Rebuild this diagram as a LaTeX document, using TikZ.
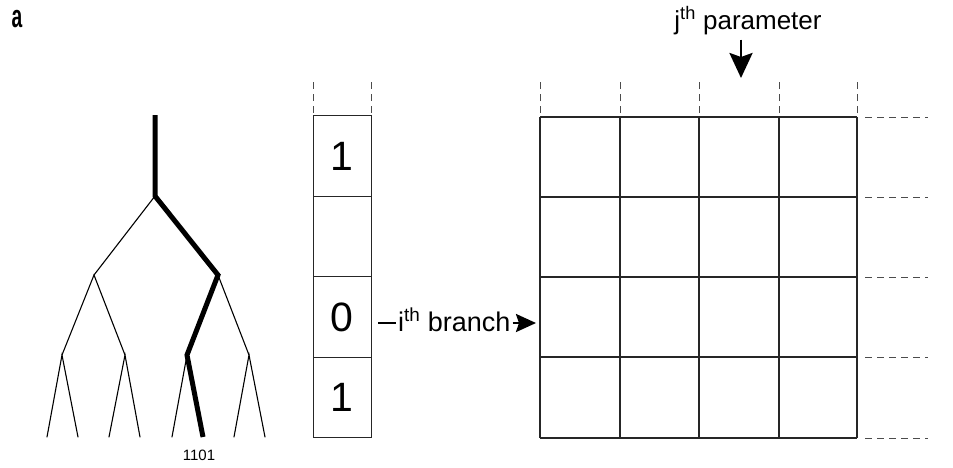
\documentclass[tikz,border=0pt]{standalone}
\usepackage{fontspec}
\setmainfont{Liberation Sans}
\usepackage{tikz}
\usetikzlibrary{arrows.meta, calc, positioning}
\tikzstyle{branch} = [line width=1.1pt, line cap=round]
\tikzstyle{path} = [line width=5pt, line join=miter]
\tikzstyle{cell} = [rectangle, draw=black!85, line width=1pt, minimum width=58pt, minimum height=80.5pt, outer sep=0pt, inner sep=0pt, font=\fontsize{41}{41}\selectfont]
\tikzstyle{dashline} = [line width=1pt, black!70, dash pattern=on 7pt off 5pt]
\tikzstyle{arrow} = [line width=2.8pt, -{Stealth[length=25pt, width=23pt, inset=4pt]}]
\tikzstyle{label} = [font=\fontsize{26}{30}\selectfont, inner sep=2pt]

\begin{document}
\begin{tikzpicture}[x=1pt, y=-1pt, node distance = 0pt]
	\useasboundingbox (0,0) rectangle (953,467);
	\node (panel) [inner sep=1pt] at (17,19) {\fontsize{32}{32}\selectfont\bfseries\scalebox{0.6}[1]{a}};

	% tree
	\coordinate (top) at (155,115);
	\coordinate (r) at (155,196);
	\coordinate (n0) at (94,275);
	\coordinate (n1) at (218,275);
	\coordinate (n00) at (62,355);
	\coordinate (n01) at (125,355);
	\coordinate (n10) at (187,355);
	\coordinate (n11) at (249,355);
	\coordinate (l000) at (47,437);
	\coordinate (l001) at (78,437);
	\coordinate (l010) at (109,437);
	\coordinate (l011) at (140,437);
	\coordinate (l100) at (172,437);
	\coordinate (l101) at (203,437);
	\coordinate (l110) at (234,437);
	\coordinate (l111) at (265,437);
	\draw[branch] (l000) -- (n00) -- (l001);
	\draw[branch] (l010) -- (n01) -- (l011);
	\draw[branch] (n00) -- (n0) -- (n01);
	\draw[branch] (r) -- (n0);
	\draw[branch] (l100) -- (n10);
	\draw[branch] (l110) -- (n11) -- (l111);
	\draw[branch] (n1) -- (n11);
	\draw[path] (top) -- (r) -- (n1) -- (n10) -- (l101);
	\node (code) [below=9pt of l101, xshift=-4pt, font=\fontsize{15}{15}\selectfont] {1101};

	% bit column
	\node (c1) [cell] at (342,156) {1};
	\node (c2) [cell, below=of c1] {};
	\node (c3) [cell, below=of c2] {0};
	\node (c4) [cell, below=of c3] {1};
	\draw[dashline] (c1.north west) ++(0,-3) -- ++(0,-33);
	\draw[dashline] (c1.north east) ++(0,-3) -- ++(0,-33);

	% parameter grid
	\coordinate (gNW) at (540,117);
	\coordinate (gSE) at (857,438);
	\foreach \x in {540,620,699,779,857} {
		\draw[line width=1.1pt, black!85] (\x,117) -- (\x,438);
		\draw[dashline] (\x,113) -- (\x,80);
	}
	\foreach \y in {117,197,277,357,438} {
		\draw[line width=1.1pt, black!85] (540,\y) -- (857,\y);
		\draw[dashline] (865,\y) -- (928,\y);
	}

	% labels
	\node (param) [label, anchor=base] at (748,29) {j\textsuperscript{th} parameter};
	\coordinate (colj) at (741,117);
	\draw[arrow] (param.south -| colj) ++(0,3) -- ($(colj)+(0,-39)$);
	\node (ibranch) [label, anchor=base west, font=\fontsize{27}{30}\selectfont] at (396,331) {i\textsuperscript{th} branch};
	\coordinate (dashL) at (378,323);
	\draw[line width=2.5pt] (dashL) -- (dashL -| ibranch.west);
	\draw[arrow, line width=2.5pt, -{Stealth[length=20pt, width=18pt, inset=3pt]}] (dashL -| ibranch.east) -- ($(dashL -| gNW)+(-4,0)$);
\end{tikzpicture}
\end{document}
